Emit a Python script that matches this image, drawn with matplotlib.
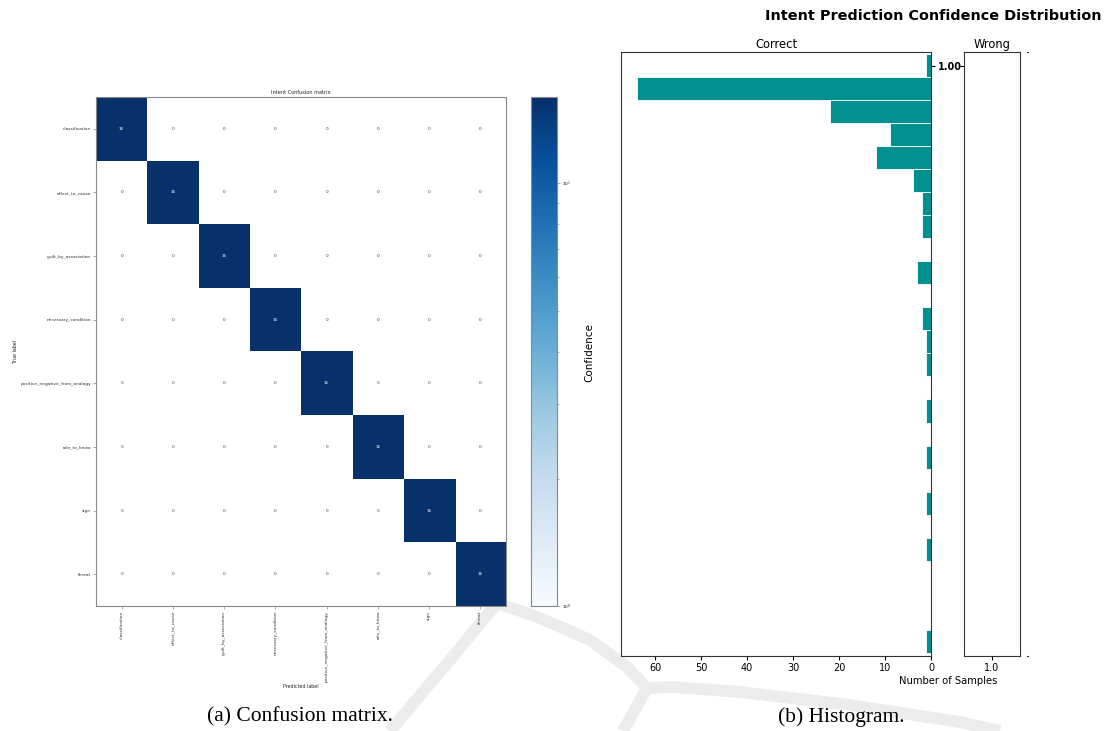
import numpy as np
import matplotlib.pyplot as plt
from matplotlib.colors import LogNorm
from matplotlib.lines import Line2D
from matplotlib.ticker import FormatStrFormatter

# confusion matrix data
intents = ["classification", "effect_to_cause", "guilt_by_association",
           "necessary_condition", "positive_negative_from_analogy",
           "role_to_know", "sign", "threat"]
diag_counts = [16, 16, 16, 16, 16, 16, 16, 16]

# histogram data (confidence bin centre -> number of samples)
conf_bins = [1.00, 0.99, 0.98, 0.97, 0.96, 0.95, 0.94, 0.93, 0.92, 0.91,
             0.90, 0.89, 0.88, 0.87, 0.86, 0.85, 0.84, 0.83, 0.82, 0.81,
             0.80, 0.79, 0.78, 0.77, 0.76, 0.75]
correct_counts = [1, 64, 22, 9, 12, 4, 2, 2, 0, 3,
                  0, 2, 1, 1, 0, 1, 0, 1, 0, 1,
                  0, 1, 0, 0, 0, 1]
wrong_counts = []
count_ticks = [0, 10, 20, 30, 40, 50, 60]

W, H = 1105, 731
fig = plt.figure(figsize=(W / 100, H / 100), dpi=100)


def box(x0, y0, x1, y1):
    # pixel box -> figure fraction rect
    return [x0 / W, 1 - y1 / H, (x1 - x0) / W, (y1 - y0) / H]


def fpt(x, y):
    return x / W, 1 - y / H


# faint watermark behind everything
wm_paths = [
    [(480, 590), (497, 603), (450, 660), (390, 731)],
    [(497, 603), (540, 618), (590, 640), (627, 667), (647, 688),
     (673, 687), (740, 692), (850, 705), (960, 722), (1000, 731)],
    [(647, 688), (623, 731)],
]
for path in wm_paths:
    xs, ys = zip(*[fpt(x, y) for x, y in path])
    fig.add_artist(Line2D(xs, ys, transform=fig.transFigure, color="#ececec",
                          lw=8.5, solid_capstyle="butt", solid_joinstyle="round",
                          zorder=-5))

# ---- (a) confusion matrix ----
cm = np.diag(diag_counts)
ax_cm = fig.add_axes(box(96, 97, 506, 606))
im = ax_cm.imshow(np.ma.masked_equal(cm, 0), cmap="Blues",
                  norm=LogNorm(vmin=1, vmax=16), aspect="auto",
                  interpolation="nearest")
for i in range(len(intents)):
    for j in range(len(intents)):
        ax_cm.text(j, i, str(cm[i, j]), ha="center", va="center", fontsize=3,
                   color="white" if cm[i, j] > 8 else "#333333")
ax_cm.set_xticks(range(len(intents)))
ax_cm.set_yticks(range(len(intents)))
ax_cm.set_xticklabels(intents, rotation=90, fontsize=3.2)
ax_cm.set_yticklabels(intents, fontsize=3.2)
ax_cm.tick_params(length=2, width=0.5, color="#888888", pad=1.5, labelcolor="#333333")
for s in ax_cm.spines.values():
    s.set_color("#888888")
    s.set_linewidth(0.8)
ax_cm.set_title("Intent Confusion matrix", fontsize=3.6, pad=2, color="#222222")
ax_cm.set_xlabel("Predicted label", fontsize=3.4, labelpad=2, color="#222222")
ax_cm.set_ylabel("True label", fontsize=3.4, labelpad=2, color="#222222")

cax = fig.add_axes(box(531, 97, 557, 606))
cb = fig.colorbar(im, cax=cax)
cb.outline.set_edgecolor("#888888")
cb.outline.set_linewidth(0.8)
cax.tick_params(which="both", labelsize=3, length=2, width=0.5, color="#888888", pad=1.5)
cax.tick_params(which="minor", length=1.2)
fig.text(*fpt(589, 353), "Confidence", rotation=90, ha="center", va="center", fontsize=7.5)

# ---- (b) histogram ----
bin_h = 0.01
ylo = conf_bins[-1] - bin_h / 2 - bin_h * 0.14
yhi = conf_bins[0] + bin_h / 2 + bin_h * 0.09

ax_c = fig.add_axes(box(621, 52, 931, 656))
ax_c.barh(conf_bins, correct_counts, height=bin_h, color="#009090",
          edgecolor="white", linewidth=0.6)
ax_c.set_xlim(67.4, 0)
ax_c.set_ylim(ylo, yhi)
ax_c.set_xticks(count_ticks)
ax_c.yaxis.tick_right()
ax_c.set_yticks([1.0])
ax_c.yaxis.set_major_formatter(FormatStrFormatter("%.2f"))
ax_c.tick_params(axis="x", labelsize=7, length=3, pad=2)
ax_c.tick_params(axis="y", labelsize=7, length=3, pad=2)
for lbl in ax_c.get_yticklabels():
    lbl.set_fontweight("bold")
ax_c.set_title("Correct", fontsize=8.3, pad=3)

ax_w = fig.add_axes(box(964, 52, 1020, 656))
ax_w.barh(conf_bins[:len(wrong_counts)], wrong_counts, height=bin_h, color="#009090")
ax_w.set_xlim(0.5, 1.5)
ax_w.set_ylim(ylo, yhi)
ax_w.set_xticks([1.0])
ax_w.set_xticklabels(["1.0"])
ax_w.set_yticks([1.0])
ax_w.set_yticklabels([])
ax_w.tick_params(axis="x", labelsize=7, length=3, pad=2)
ax_w.tick_params(axis="y", length=3)
ax_w.set_title("Wrong", fontsize=8.3, pad=3)

ax_e = fig.add_axes(box(1027, 52, 1028, 656))
ax_e.set_xticks([])
ax_e.set_yticks([])
ax_e.spines["left"].set_visible(False)
ax_e.spines["right"].set_visible(False)

for ax in (ax_c, ax_w, ax_e):
    for s in ax.spines.values():
        s.set_color("#333333")

fig.text(*fpt(933, 16), "Intent Prediction Confidence Distribution",
         ha="center", va="center", fontsize=10.4, fontweight="bold")
fig.text(*fpt(948, 681), "Number of Samples", ha="center", va="center", fontsize=7.2)

# captions
fig.text(*fpt(300, 717), "(a) Confusion matrix.", ha="center", va="center",
         fontsize=15.5, family="Liberation Serif")
fig.text(*fpt(841, 717), "(b) Histogram.", ha="center", va="center",
         fontsize=15.5, family="Liberation Serif")

fig.savefig("out.png", dpi=100)
